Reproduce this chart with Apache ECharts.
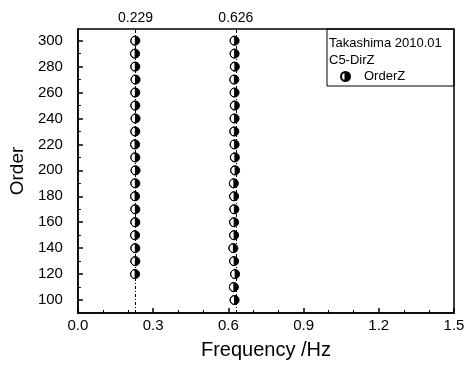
<!DOCTYPE html>
<html>
<head>
<meta charset="utf-8">
<script src="https://cdn.jsdelivr.net/npm/echarts@6/dist/echarts.min.js"></script>
<style>
  html, body { margin: 0; padding: 0; background: #fff; }
  #chart { width: 468px; height: 365px; }
</style>
</head>
<body>
<div id="chart"></div>
<script>
// order values for each frequency group
var orders1 = [120, 130, 140, 150, 160, 170, 180, 190, 200, 210, 220, 230, 240, 250, 260, 270, 280, 290, 300];
var freqs1 = [0.228, 0.229, 0.229, 0.228, 0.229, 0.229, 0.228, 0.229, 0.230, 0.229, 0.228, 0.229, 0.230, 0.229, 0.229, 0.230, 0.229, 0.228, 0.229];

var orders2 = [100, 110, 120, 130, 140, 150, 160, 170, 180, 190, 200, 210, 220, 230, 240, 250, 260, 270, 280, 290, 300];
var freqs2 = [0.625, 0.622, 0.627, 0.623, 0.620, 0.623, 0.623, 0.624, 0.623, 0.622, 0.627, 0.626, 0.625, 0.624, 0.625, 0.626, 0.625, 0.624, 0.626, 0.625, 0.625];

var peakFreqs = [0.229, 0.626];

var yMajorTicks = [100, 120, 140, 160, 180, 200, 220, 240, 260, 280, 300];
var yMinorTicks = [110, 130, 150, 170, 190, 210, 230, 250, 270, 290];

var legendLines = ['Takashima 2010.01', 'C5-DirZ'];
var seriesName = 'OrderZ';

// half filled circle: right half black
var halfCircle = 'path://M0,-1A1,1 0 1 1 0,1A1,1 0 1 1 0,-1ZM0,-1A1,1 0 0 0 0,1Z';
var font = 'Liberation Sans, Arial, sans-serif';

function pairs(xs, ys){
	var out = [];
	for(var i=0; i<xs.length; i++){
		out.push([xs[i], ys[i]]);
	}
	return out;
}

var chart = echarts.init(document.getElementById('chart'));

var option = {
	backgroundColor: '#fff',
	animation: false,
	textStyle: { fontFamily: font, color: '#000' },
	grid: {
		left: 77, right: 14, top: 29, bottom: 50,
		show: true,
		borderColor: '#000',
		borderWidth: 1.5,
		backgroundColor: 'transparent'
	},
	legend: {
		data: [seriesName],
		left: 340,
		top: 70,
		itemWidth: 9,
		itemHeight: 9,
		padding: 0,
		textStyle: { fontFamily: font, fontSize: 13, color: '#000', padding: [0, 0, 0, 9] }
	},
	graphic: [
		{
			type: 'rect',
			shape: { x: 327, y: 29, width: 127, height: 57 },
			style: { fill: 'none', stroke: '#000', lineWidth: 1 },
			z: 10
		},
		{
			type: 'text',
			style: { text: legendLines[0], x: 329, y: 43, verticalAlign: 'middle', font: '13px ' + font, fill: '#000' },
			z: 10
		},
		{
			type: 'text',
			style: { text: legendLines[1], x: 329, y: 60, verticalAlign: 'middle', font: '13px ' + font, fill: '#000' },
			z: 10
		}
	],
	xAxis: {
		type: 'value',
		min: 0,
		max: 1.5,
		interval: 0.3,
		name: 'Frequency /Hz',
		nameLocation: 'middle',
		nameGap: 27,
		nameTextStyle: { fontSize: 20, fontFamily: font, color: '#000' },
		axisLine: { lineStyle: { color: '#000', width: 1.5 } },
		axisTick: { inside: true, length: 5, lineStyle: { color: '#000', width: 1.5 } },
		minorTick: { show: true, splitNumber: 3, length: 3, lineStyle: { color: '#000', width: 1 } },
		axisLabel: {
			fontSize: 15, color: '#000', margin: 5,
			formatter: function(v){ return v.toFixed(1); }
		},
		splitLine: { show: false }
	},
	yAxis: [
		{
			type: 'value',
			min: 90,
			max: 309,
			position: 'left',
			name: 'Order',
			nameLocation: 'middle',
			nameGap: 45,
			nameTextStyle: { fontSize: 19, fontFamily: font, color: '#000' },
			axisLine: { show: true, lineStyle: { color: '#000', width: 1.5 } },
			axisTick: { show: true, inside: true, length: 5, customValues: yMajorTicks, lineStyle: { color: '#000', width: 1.5 } },
			axisLabel: { fontSize: 15, color: '#000', margin: 15, customValues: yMajorTicks },
			splitLine: { show: false }
		},
		{
			type: 'value',
			min: 90,
			max: 309,
			position: 'left',
			axisLine: { show: false },
			axisTick: { show: true, inside: true, length: 3, customValues: yMinorTicks, lineStyle: { color: '#000', width: 1 } },
			axisLabel: { show: false },
			splitLine: { show: false }
		}
	],
	series: [
		{
			name: seriesName,
			type: 'scatter',
			symbol: halfCircle,
			symbolSize: 9,
			itemStyle: { color: '#000', borderColor: '#000', borderWidth: 1, opacity: 1 },
			data: pairs(freqs1, orders1),
			markLine: {
				silent: true,
				symbol: 'none',
				lineStyle: { color: '#000', width: 1, type: [3, 2, 1, 2] },
				label: {
					show: true,
					position: 'end',
					distance: 4,
					fontSize: 14,
					fontFamily: font,
					color: '#000',
					formatter: '{b}'
				},
				data: peakFreqs.map(function(f){ return { xAxis: f, name: f.toFixed(3) }; })
			}
		},
		{
			name: seriesName,
			type: 'scatter',
			symbol: halfCircle,
			symbolSize: 9,
			itemStyle: { color: '#000', borderColor: '#000', borderWidth: 1, opacity: 1 },
			data: pairs(freqs2, orders2)
		}
	]
};

chart.setOption(option);
</script>
</body>
</html>
